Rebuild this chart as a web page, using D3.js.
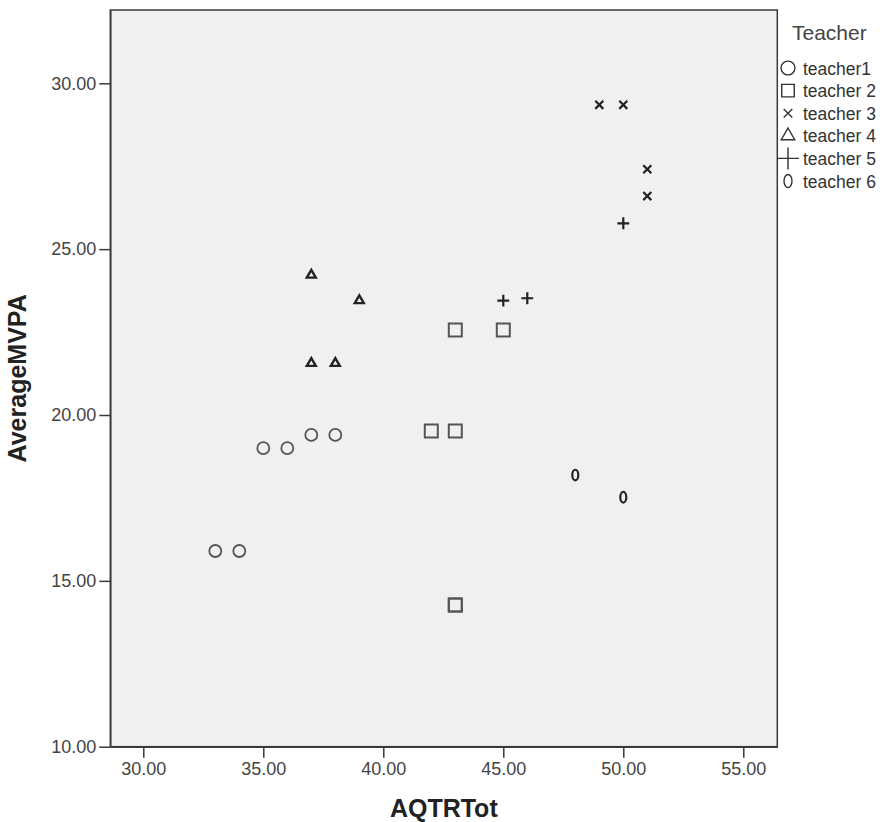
<!DOCTYPE html>
<html>
<head>
<meta charset="utf-8">
<script src="https://cdn.jsdelivr.net/npm/d3@7"></script>
<style>
  body { margin: 0; background: #fff; }
  svg text { font-family: "Liberation Sans", Arial, sans-serif; }
</style>
</head>
<body>
<svg id="chart" width="885" height="822"></svg>
<script>
// values, one pair of arrays per teacher
const teacherNames = ['teacher1', 'teacher 2', 'teacher 3', 'teacher 4', 'teacher 5', 'teacher 6'];
const teacher1X = [33, 34, 35, 36, 37, 38];
const teacher1Y = [15.9, 15.9, 19.0, 19.0, 19.4, 19.4];
const teacher2X = [42, 43, 43, 45, 43, 43];
const teacher2Y = [19.52, 19.52, 22.56, 22.56, 14.27, 14.27];
const teacher3X = [49, 50, 51, 51];
const teacher3Y = [29.35, 29.35, 27.41, 26.6];
const teacher4X = [37, 39, 37, 38];
const teacher4Y = [24.22, 23.45, 21.56, 21.56];
const teacher5X = [45, 46, 50];
const teacher5Y = [23.45, 23.52, 25.78];
const teacher6X = [48, 50];
const teacher6Y = [18.19, 17.52];
const xTicks = [30, 35, 40, 45, 50, 55];
const yTicks = [10, 15, 20, 25, 30];

const allX = [teacher1X, teacher2X, teacher3X, teacher4X, teacher5X, teacher6X];
const allY = [teacher1Y, teacher2Y, teacher3Y, teacher4Y, teacher5Y, teacher6Y];

const svg = d3.select('#chart');
const plotL = 110.3, plotR = 777.3, plotT = 10, plotB = 746.7;

const x = d3.scaleLinear().domain([28.625, 56.417]).range([plotL, plotR]);
const y = d3.scaleLinear().domain([10, 32.21]).range([plotB, plotT]);

// plot background
svg.append('rect')
    .attr('x', plotL).attr('y', plotT)
    .attr('width', plotR - plotL).attr('height', plotB - plotT)
    .attr('fill', '#f0f0f0')
    .attr('stroke', '#3a3a3a')
    .attr('stroke-width', 1.5);

const fmt = d3.format('.2f');

const xAxis = svg.append('g')
    .attr('transform', `translate(0,${plotB})`)
    .call(d3.axisBottom(x).tickValues(xTicks).tickFormat(fmt)
        .tickSizeInner(11).tickSizeOuter(0).tickPadding(5));
const yAxis = svg.append('g')
    .attr('transform', `translate(${plotL},0)`)
    .call(d3.axisLeft(y).tickValues(yTicks).tickFormat(fmt)
        .tickSizeInner(11).tickSizeOuter(0).tickPadding(3));

[xAxis, yAxis].forEach(g => {
    g.select('.domain').attr('stroke', '#3a3a3a').attr('stroke-width', 1.5);
    g.selectAll('.tick line').attr('stroke', '#3a3a3a').attr('stroke-width', 1.5);
    g.selectAll('.tick text')
        .attr('fill', '#444')
        .style('font-size', '18px')
        .style('font-family', '"Liberation Sans", Arial, sans-serif');
});

// axis titles
svg.append('text')
    .attr('x', (plotL + plotR) / 2).attr('y', 817)
    .attr('text-anchor', 'middle')
    .style('font-size', '25px').style('font-weight', 'bold')
    .attr('fill', '#222')
    .text('AQTRTot');

svg.append('text')
    .attr('transform', `translate(26,${(plotT + plotB) / 2}) rotate(-90)`)
    .attr('text-anchor', 'middle')
    .style('font-size', '25px').style('font-weight', 'bold')
    .attr('fill', '#222')
    .text('AverageMVPA');

// marker shapes
const shapes = [d3.symbolCircle, d3.symbolSquare2, d3.symbolTimes, d3.symbolTriangle2, d3.symbolPlus, null];
const plotSizes = [113, 215, 44, 58, 48, 0];
const plotStroke = ['#555', '#555', '#222', '#222', '#222', '#222'];
const plotWidth = [1.8, 2, 2.2, 2.4, 2.2, 2.2];

function drawMarker(g, i, cx, cy, size, stroke, sw, zeroR) {
    if (shapes[i]) {
        g.append('path')
            .attr('transform', `translate(${cx},${cy})`)
            .attr('d', d3.symbol().type(shapes[i]).size(size)())
            .attr('fill', 'none')
            .attr('stroke', stroke)
            .attr('stroke-width', sw);
    } else {
        g.append('ellipse')
            .attr('cx', cx).attr('cy', cy)
            .attr('rx', zeroR[0]).attr('ry', zeroR[1])
            .attr('fill', 'none')
            .attr('stroke', stroke)
            .attr('stroke-width', sw);
    }
}

const pts = svg.append('g');
allX.forEach((xs, i) => {
    xs.forEach((v, j) => {
        drawMarker(pts, i, x(v), y(allY[i][j]), plotSizes[i], plotStroke[i], plotWidth[i], [3, 5.3]);
    });
});

// legend
const legend = svg.append('g');
legend.append('text')
    .attr('x', 792).attr('y', 40)
    .style('font-size', '21px')
    .attr('fill', '#444')
    .text('Teacher');

const legSizes = [150, 200, 50, 130, 160, 0];
teacherNames.forEach((name, i) => {
    const cy = 68 + i * 22.6;
    drawMarker(legend, i, 788, cy, legSizes[i], '#333', 1.4, [4, 6.5]);
    legend.append('text')
        .attr('x', 803).attr('y', cy + 6.5)
        .style('font-size', '17.5px')
        .attr('fill', '#333')
        .text(name);
});
</script>
</body>
</html>
